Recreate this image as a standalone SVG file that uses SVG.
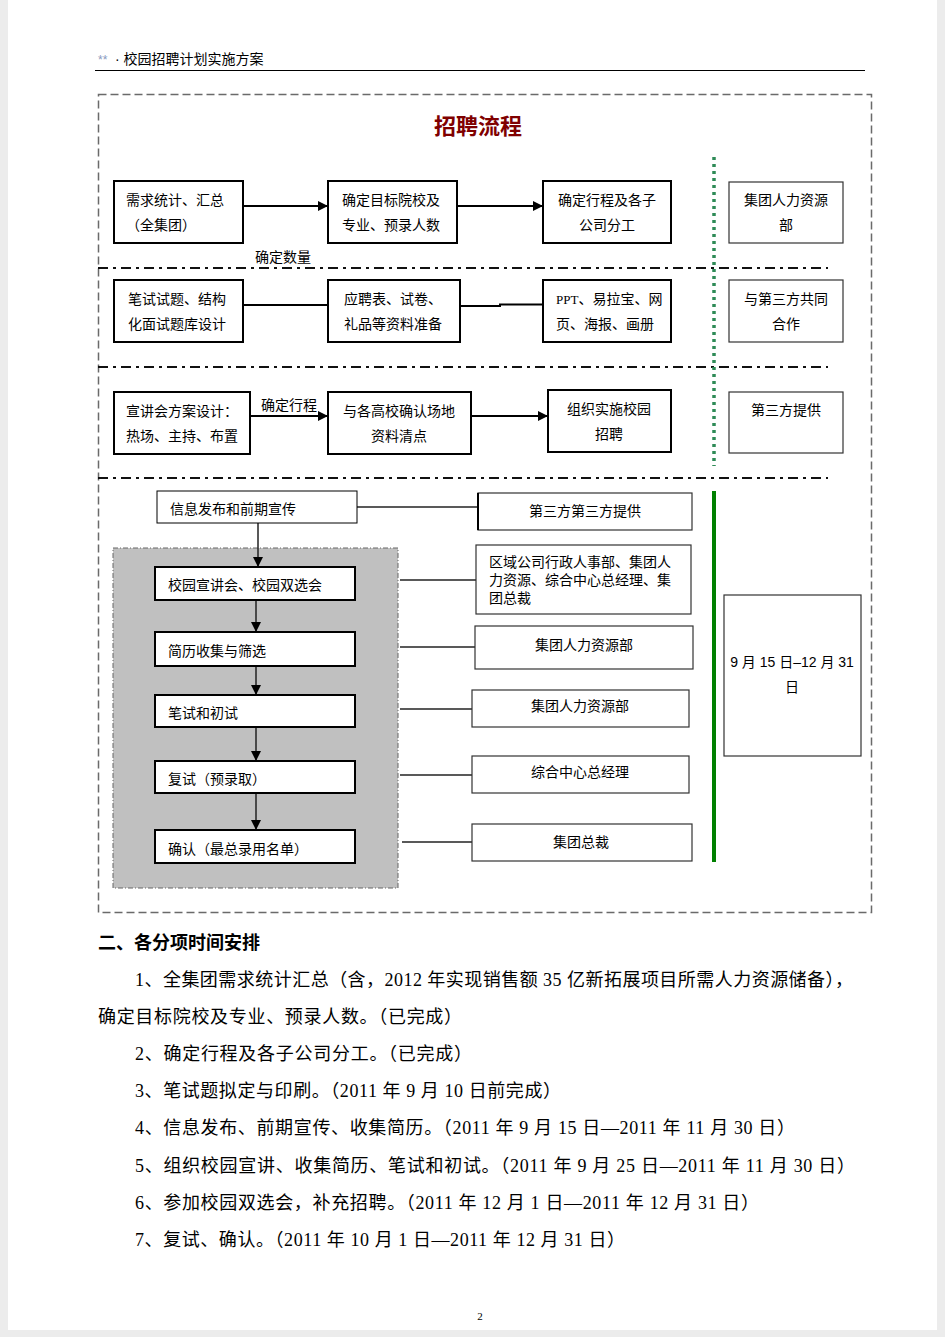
<svg xmlns="http://www.w3.org/2000/svg" width="945" height="1337" viewBox="0 0 945 1337">
<defs>
<style>
.t{font-family:"Liberation Sans","Noto Sans CJK SC",sans-serif;font-size:14px;fill:#000}
.m{text-anchor:middle}
.p{font-family:"Liberation Serif","Noto Sans CJK SC",serif;font-size:18px;fill:#000}
.bx{fill:#fff;stroke:#000;stroke-width:2}
.bt{fill:#fff;stroke:#333;stroke-width:1.2}
.ln{fill:none;stroke:#000;stroke-width:2}
.ls{fill:none;stroke:#222;stroke-width:1.5}
.sep{fill:none;stroke:#111;stroke-width:2;stroke-dasharray:10 5 3 5}
</style>
<marker id="ah" viewBox="0 0 10 10" refX="10" refY="5" markerWidth="10" markerHeight="10" markerUnits="userSpaceOnUse" orient="auto">
<path d="M0,0 L10,5 L0,10 Z" fill="#000"/>
</marker>
</defs>
<rect x="0" y="0" width="945" height="1337" fill="#ececec"/>
<rect x="8" y="0" width="929" height="1330" fill="#fff"/>

<g id="header">
<text x="98" y="64" font-family="Liberation Sans,sans-serif" font-size="12" fill="#8a9ac0">**</text>
<text x="115" y="64" class="t">· 校园招聘计划实施方案</text>
<line x1="95" y1="70.5" x2="865" y2="70.5" stroke="#000" stroke-width="1"/>
</g>

<g id="frame">
<rect x="98.5" y="94.5" width="773" height="818" fill="none" stroke="#6a6a6a" stroke-width="1.5" stroke-dasharray="8 4"/>
<text x="478" y="134" text-anchor="middle" font-family="Liberation Sans,'Noto Sans CJK SC',sans-serif" font-size="22" font-weight="bold" fill="#800000">招聘流程</text>
<line x1="98" y1="268" x2="828" y2="268" class="sep"/>
<line x1="98" y1="367" x2="828" y2="367" class="sep"/>
<line x1="98" y1="478" x2="828" y2="478" class="sep"/>
<line x1="714" y1="157" x2="714" y2="466" stroke="#2e8b57" stroke-width="3.5" stroke-dasharray="3 4"/>
<line x1="714" y1="491" x2="714" y2="862" stroke="#008000" stroke-width="4"/>
<rect x="113" y="548" width="285" height="340" fill="#c0c0c0" stroke="#666" stroke-width="1" stroke-dasharray="5 2 1 2"/>
</g>

<g id="connectors">
<line x1="243" y1="206" x2="328" y2="206" class="ln" marker-end="url(#ah)"/>
<line x1="457" y1="206" x2="543" y2="206" class="ln" marker-end="url(#ah)"/>
<line x1="243" y1="305" x2="328" y2="305" class="ln"/>
<polyline points="460,306 500,306 500,304.5 543,304.5" class="ln"/>
<line x1="250" y1="416" x2="328" y2="416" class="ln" marker-end="url(#ah)"/>
<line x1="471" y1="416" x2="548" y2="416" class="ln" marker-end="url(#ah)"/>
<text x="255" y="262" class="t">确定数量</text>
<text x="261" y="410" class="t">确定行程</text>
<line x1="258" y1="523" x2="258" y2="567" class="ls" marker-end="url(#ah)"/>
<line x1="256" y1="600" x2="256" y2="632" class="ls" marker-end="url(#ah)"/>
<line x1="256" y1="666" x2="256" y2="695" class="ls" marker-end="url(#ah)"/>
<line x1="256" y1="727" x2="256" y2="761" class="ls" marker-end="url(#ah)"/>
<line x1="256" y1="793" x2="256" y2="830" class="ls" marker-end="url(#ah)"/>
<line x1="357" y1="507" x2="478" y2="507" class="ls"/>
<line x1="400" y1="580" x2="476" y2="580" class="ls"/>
<line x1="400" y1="647" x2="475" y2="647" class="ls"/>
<line x1="400" y1="709" x2="472" y2="709" class="ls"/>
<line x1="400" y1="775" x2="472" y2="775" class="ls"/>
<line x1="402" y1="842" x2="472" y2="842" class="ls"/>
</g>

<g id="n1"><rect x="114" y="181" width="129" height="62" class="bx"/><text x="126" y="205" class="t">需求统计、汇总</text><text x="126" y="230" class="t">（全集团）</text></g>
<g id="n2"><rect x="328" y="181" width="129" height="62" class="bx"/><text x="342" y="205" class="t">确定目标院校及</text><text x="342" y="230" class="t">专业、预录人数</text></g>
<g id="n3"><rect x="543" y="181" width="128" height="62" class="bx"/><text x="607" y="205" class="t m">确定行程及各子</text><text x="607" y="230" class="t m">公司分工</text></g>
<g id="n4"><rect x="729" y="182" width="114" height="61" class="bt"/><text x="786" y="205" class="t m">集团人力资源</text><text x="786" y="230" class="t m">部</text></g>

<g id="n5"><rect x="114" y="280" width="129" height="62" class="bx"/><text x="128" y="304" class="t">笔试试题、结构</text><text x="128" y="329" class="t">化面试题库设计</text></g>
<g id="n6"><rect x="328" y="280" width="132" height="62" class="bx"/><text x="344" y="304" class="t">应聘表、试卷、</text><text x="344" y="329" class="t">礼品等资料准备</text></g>
<g id="n7"><rect x="543" y="280" width="128" height="62" class="bx"/><text x="556" y="304" class="t"><tspan font-family="Liberation Serif,serif" font-size="13">PPT</tspan>、易拉宝、网</text><text x="556" y="329" class="t">页、海报、画册</text></g>
<g id="n8"><rect x="729" y="280" width="114" height="62" class="bt"/><text x="786" y="304" class="t m">与第三方共同</text><text x="786" y="329" class="t m">合作</text></g>

<g id="n9"><rect x="114" y="392" width="136" height="62" class="bx"/><text x="126" y="416" class="t">宣讲会方案设计：</text><text x="126" y="441" class="t">热场、主持、布置</text></g>
<g id="n10"><rect x="328" y="392" width="143" height="62" class="bx"/><text x="399" y="416" class="t m">与各高校确认场地</text><text x="399" y="441" class="t m">资料清点</text></g>
<g id="n11"><rect x="548" y="390" width="123" height="62" class="bx"/><text x="609" y="414" class="t m">组织实施校园</text><text x="609" y="439" class="t m">招聘</text></g>
<g id="n12"><rect x="729" y="392" width="114" height="61" class="bt"/><text x="786" y="415" class="t m">第三方提供</text></g>

<g id="n13"><rect x="157" y="491" width="200" height="32" fill="#fff" stroke="#000" stroke-width="1"/><text x="170" y="514" class="t">信息发布和前期宣传</text></g>
<g id="n14"><rect x="478" y="493" width="214" height="37" class="bt"/><line x1="478" y1="493" x2="478" y2="530" stroke="#000" stroke-width="2"/><text x="585" y="516" class="t m">第三方第三方提供</text></g>
<g id="n15"><rect x="155" y="567" width="200" height="33" class="bx"/><text x="168" y="590" class="t">校园宣讲会、校园双选会</text></g>
<g id="n16"><rect x="155" y="632" width="200" height="34" class="bx"/><text x="168" y="656" class="t">简历收集与筛选</text></g>
<g id="n17"><rect x="155" y="695" width="200" height="32" class="bx"/><text x="168" y="718" class="t">笔试和初试</text></g>
<g id="n18"><rect x="155" y="761" width="200" height="32" class="bx"/><text x="168" y="784" class="t">复试（预录取）</text></g>
<g id="n19"><rect x="155" y="830" width="200" height="33" class="bx"/><text x="168" y="854" class="t">确认（最总录用名单）</text></g>
<g id="n20"><rect x="476" y="545" width="215" height="69" class="bt"/><text x="489" y="567" class="t">区域公司行政人事部、集团人</text><text x="489" y="585" class="t">力资源、综合中心总经理、集</text><text x="489" y="603" class="t">团总裁</text></g>
<g id="n21"><rect x="475" y="626" width="218" height="43" class="bt"/><text x="584" y="650" class="t m">集团人力资源部</text></g>
<g id="n22"><rect x="472" y="690" width="217" height="37" class="bt"/><text x="580" y="711" class="t m">集团人力资源部</text></g>
<g id="n23"><rect x="472" y="756" width="217" height="37" class="bt"/><text x="580" y="777" class="t m">综合中心总经理</text></g>
<g id="n24"><rect x="472" y="824" width="220" height="37" class="bt"/><text x="581" y="847" class="t m">集团总裁</text></g>
<g id="n25"><rect x="724" y="595" width="137" height="161" class="bt"/><text x="792" y="667" class="t m" font-size="13">9 月 15 日–12 月 31</text><text x="792" y="692" class="t m">日</text></g>

<g id="body">
<text x="98" y="949" class="p" font-weight="bold" font-size="18.5">二、各分项时间安排</text>
<text x="135" y="986" class="p" textLength="718" lengthAdjust="spacing">1、全集团需求统计汇总（含，2012 年实现销售额 35 亿新拓展项目所需人力资源储备），</text>
<text x="98" y="1023" class="p" textLength="364" lengthAdjust="spacing">确定目标院校及专业、预录人数。（已完成）</text>
<text x="135" y="1060" class="p" textLength="337" lengthAdjust="spacing">2、确定行程及各子公司分工。（已完成）</text>
<text x="135" y="1097" class="p" textLength="426" lengthAdjust="spacing">3、笔试题拟定与印刷。（2011 年 9 月 10 日前完成）</text>
<text x="135" y="1134" class="p" textLength="660" lengthAdjust="spacing">4、信息发布、前期宣传、收集简历。（2011 年 9 月 15 日—2011 年 11 月 30 日）</text>
<text x="135" y="1172" class="p" textLength="720" lengthAdjust="spacing">5、组织校园宣讲、收集简历、笔试和初试。（2011 年 9 月 25 日—2011 年 11 月 30 日）</text>
<text x="135" y="1209" class="p" textLength="624" lengthAdjust="spacing">6、参加校园双选会，补充招聘。（2011 年 12 月 1 日—2011 年 12 月 31 日）</text>
<text x="135" y="1246" class="p" textLength="490" lengthAdjust="spacing">7、复试、确认。（2011 年 10 月 1 日—2011 年 12 月 31 日）</text>
<text x="480" y="1320" text-anchor="middle" font-family="Liberation Serif,serif" font-size="11" fill="#000">2</text>
</g>
</svg>
